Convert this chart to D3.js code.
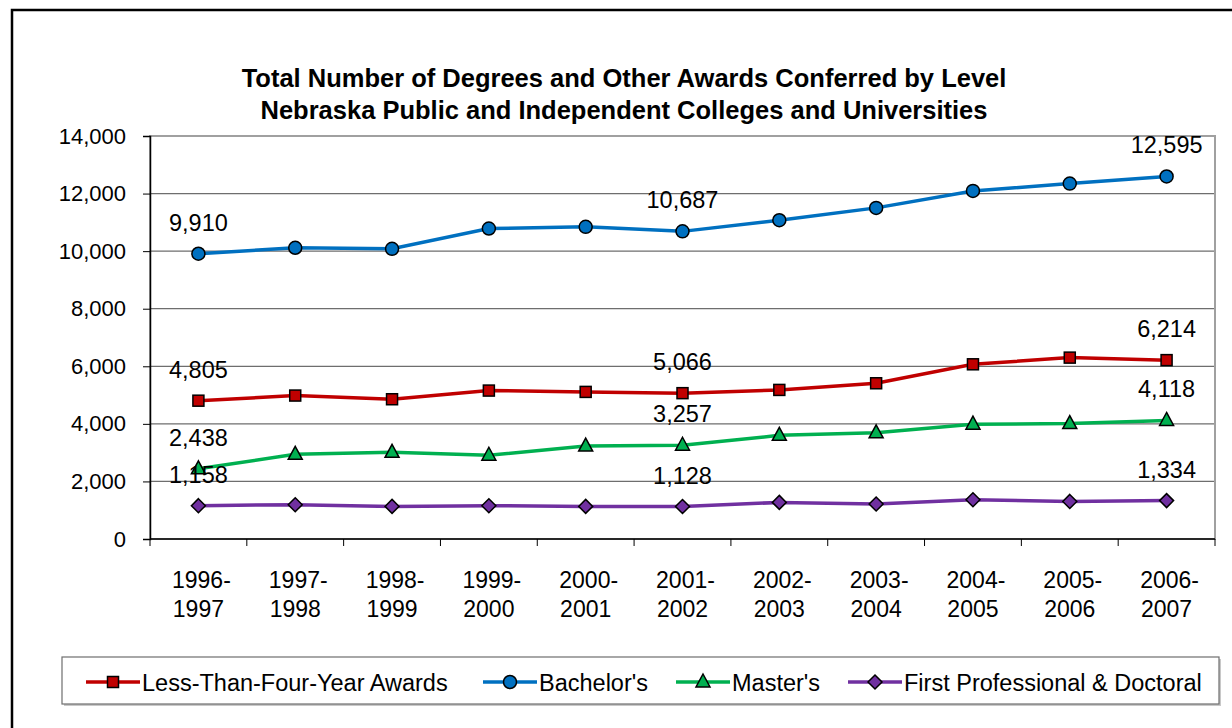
<!DOCTYPE html>
<html>
<head>
<meta charset="utf-8">
<script src="https://cdn.jsdelivr.net/npm/d3@7"></script>
<style>
  body { margin: 0; background: #fff; }
  text { font-family: "Liberation Sans", Arial, sans-serif; fill: #000; }
</style>
</head>
<body>
<div id="chart"></div>
<script>
// data
var years = ['1996-1997', '1997-1998', '1998-1999', '1999-2000', '2000-2001', '2001-2002',
             '2002-2003', '2003-2004', '2004-2005', '2005-2006', '2006-2007'];
var lessThanFour = [4805, 4983, 4855, 5156, 5110, 5066, 5179, 5410, 6069, 6301, 6214];
var bachelors    = [9910, 10116, 10081, 10786, 10844, 10687, 11075, 11503, 12092, 12347, 12595];
var masters      = [2438, 2940, 3010, 2910, 3230, 3257, 3600, 3690, 3990, 4010, 4118];
var firstProf    = [1158, 1191, 1133, 1156, 1133, 1128, 1272, 1214, 1364, 1306, 1334];
var seriesNames  = ["Less-Than-Four-Year Awards", "Bachelor's", "Master's", "First Professional & Doctoral"];
var yTicks = [0, 2000, 4000, 6000, 8000, 10000, 12000, 14000];
var labelled = [0, 5, 10];   // points that carry a value label

var series = [
  { name: seriesNames[0], values: lessThanFour, color: '#C00000', marker: 'square' },
  { name: seriesNames[1], values: bachelors,    color: '#0070C0', marker: 'circle' },
  { name: seriesNames[2], values: masters,      color: '#00B050', marker: 'triangle' },
  { name: seriesNames[3], values: firstProf,    color: '#7030A0', marker: 'diamond' }
];

var W = 1232, H = 728;
var plot = { left: 150, right: 1215, top: 136, bottom: 539 };

var svg = d3.select('#chart').append('svg').attr('width', W).attr('height', H);

// outer frame
svg.append('rect').attr('x', 12).attr('y', 10).attr('width', W).attr('height', H)
   .attr('fill', 'none').attr('stroke', '#000').attr('stroke-width', 2.5);

// title
var title = svg.append('text').attr('text-anchor', 'middle')
   .style('font-weight', 'bold').style('font-size', '25.5px');
title.append('tspan').attr('x', 624).attr('y', 87).text('Total Number of Degrees and Other Awards Conferred by Level');
title.append('tspan').attr('x', 624).attr('y', 119).text('Nebraska Public and Independent Colleges and Universities');

var x = d3.scaleBand().domain(years).range([plot.left, plot.right]);
var y = d3.scaleLinear().domain([0, 14000]).range([plot.bottom, plot.top]);
var fmt = d3.format(',');

// gridlines
svg.append('g').selectAll('line').data(yTicks.filter(function(t) { return t > 0 && t < 14000; }))
   .enter().append('line')
   .attr('x1', plot.left).attr('x2', plot.right)
   .attr('y1', function(d) { return y(d); }).attr('y2', function(d) { return y(d); })
   .attr('stroke', '#6e6e6e').attr('stroke-width', 1.3);

// plot area frame (gray top/right)
svg.append('rect').attr('x', plot.left).attr('y', plot.top)
   .attr('width', plot.right - plot.left).attr('height', plot.bottom - plot.top)
   .attr('fill', 'none').attr('stroke', '#a0a0a0').attr('stroke-width', 2);

// y axis
var yAxis = svg.append('g').attr('transform', 'translate(' + plot.left + ',0)')
   .call(d3.axisLeft(y).tickValues(yTicks).tickFormat(fmt).tickSize(7).tickPadding(17));
yAxis.select('.domain').attr('stroke', '#000').attr('stroke-width', 1.5);
yAxis.selectAll('.tick line').attr('stroke', '#000');
yAxis.selectAll('text').style('font-size', '22px').attr('fill', '#000')
   .style('font-family', '"Liberation Sans", Arial, sans-serif');

// x axis: ticks between categories
var xAxisG = svg.append('g');
xAxisG.append('line').attr('x1', plot.left).attr('x2', plot.right)
   .attr('y1', plot.bottom).attr('y2', plot.bottom).attr('stroke', '#000').attr('stroke-width', 1.5);
xAxisG.selectAll('line.tk').data(years.concat(['end'])).enter().append('line').attr('class', 'tk')
   .attr('x1', function(d, i) { return plot.left + i * x.step(); })
   .attr('x2', function(d, i) { return plot.left + i * x.step(); })
   .attr('y1', plot.bottom).attr('y2', plot.bottom + 7).attr('stroke', '#000');
var xl = xAxisG.selectAll('text').data(years).enter().append('text')
   .attr('text-anchor', 'middle').style('font-size', '23px');
xl.append('tspan').attr('x', function(d) { return x(d) + x.bandwidth() / 2; }).attr('y', 588)
  .text(function(d) { return d.split('-')[0] + '-'; }).attr('dx', 3);
xl.append('tspan').attr('x', function(d) { return x(d) + x.bandwidth() / 2; }).attr('y', 617)
  .text(function(d) { return d.split('-')[1]; });

function cx(i) { return x(years[i]) + x.bandwidth() / 2; }

function drawMarker(g, type, color, px, py) {
  var m;
  if (type === 'square') {
    m = g.append('rect').attr('x', px - 5.5).attr('y', py - 5.5).attr('width', 11).attr('height', 11);
  } else if (type === 'circle') {
    m = g.append('circle').attr('cx', px).attr('cy', py).attr('r', 6.5);
  } else if (type === 'triangle') {
    m = g.append('path').attr('d', 'M' + px + ',' + (py - 8) + 'L' + (px + 7) + ',' + (py + 5) + 'L' + (px - 7) + ',' + (py + 5) + 'Z');
  } else {
    m = g.append('path').attr('d', 'M' + px + ',' + (py - 7) + 'L' + (px + 7) + ',' + py + 'L' + px + ',' + (py + 7) + 'L' + (px - 7) + ',' + py + 'Z');
  }
  m.attr('fill', color).attr('stroke', '#000').attr('stroke-width', 1.5);
}

var line = d3.line().x(function(d, i) { return cx(i); }).y(function(d) { return y(d); });

series.forEach(function(s) {
  var g = svg.append('g');
  g.append('path').datum(s.values).attr('d', line)
   .attr('fill', 'none').attr('stroke', s.color).attr('stroke-width', 3.5);
  s.values.forEach(function(v, i) { drawMarker(g, s.marker, s.color, cx(i), y(v)); });
});

// value labels (drawn last so they sit on top)
series.forEach(function(s) {
  labelled.forEach(function(i) {
    svg.append('text').attr('x', cx(i)).attr('y', y(s.values[i]) - 23)
       .attr('text-anchor', 'middle').style('font-size', '23.5px')
       .text(fmt(s.values[i]));
  });
});

// legend
var lg = svg.append('g');
lg.append('rect').attr('x', 64).attr('y', 659).attr('width', 1157).attr('height', 47)
  .attr('fill', '#c8c8c8');
lg.append('rect').attr('x', 62).attr('y', 657).attr('width', 1157).attr('height', 47)
  .attr('fill', '#fff').attr('stroke', '#6e6e6e').attr('stroke-width', 1.2);
var legendX = [86, 483, 676, 848];
series.forEach(function(s, i) {
  var lx = legendX[i], ly = 682;
  lg.append('line').attr('x1', lx).attr('x2', lx + 54).attr('y1', ly).attr('y2', ly)
    .attr('stroke', s.color).attr('stroke-width', 3.5);
  drawMarker(lg, s.marker, s.color, lx + 27, ly);
  lg.append('text').attr('x', lx + 56).attr('y', ly + 8.5).style('font-size', '23.5px').text(s.name);
});
</script>
</body>
</html>
